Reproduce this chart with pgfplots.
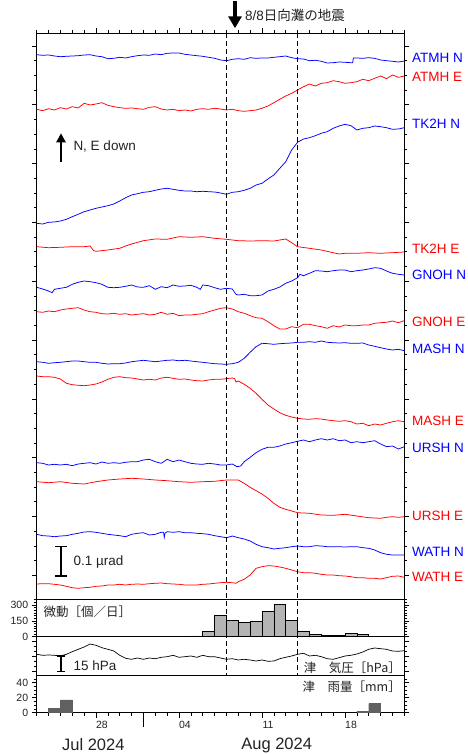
\documentclass[border=0pt]{standalone}
\usepackage{fontspec}
\setmainfont{Liberation Sans}
\newfontfamily\jp{Noto Sans CJK JP}
\usepackage{pgfplots}
\pgfplotsset{compat=1.18}
\usetikzlibrary{arrows.meta}
\definecolor{txt}{HTML}{222222}
\definecolor{sblue}{RGB}{0,0,255}
\definecolor{sred}{RGB}{255,0,0}
\definecolor{barlight}{HTML}{B4B4B4}
\definecolor{bardark}{HTML}{606060}
\pgfplotsset{
  panel/.style={
    scale only axis, width=367.6pt, xmin=0, xmax=31, anchor=south west,
    axis line style={line width=0.8pt, black},
    tick style={black, line width=0.6pt},
    tick align=outside,
    major tick length=5pt, minor tick length=3pt,
    /pgf/number format/assume math mode=true,
    ticklabel style={font=\fontsize{10.5}{12}\selectfont, text=txt},
  },
  tilt/.style={line width=0.75pt},
}
\newcommand{\lab}[3]{\node[anchor=west, text=#1, font=\fontsize{13.5}{16}\selectfont, inner sep=0pt] at (412,{754-#2}) {#3};}
\begin{document}
\begin{tikzpicture}[x=1pt,y=1pt]
\useasboundingbox (0,0) rectangle (467,754);
% ---------------- main tilt panel ----------------
\begin{axis}[panel, at={(36.7pt,154.7pt)}, height=566pt,
  y dir=reverse, ymin=33.3, ymax=599.3,
  ytick={46,104.8,163.6,222.4,281.2,340,398.8,457.6,516.4,575.2}, minor y tick num=3, yticklabels={},
  xtick={5,12,19,26}, minor xtick={0,1,...,31}, xtick pos=upper, xticklabels={}]
% ATMH N
\addplot[tilt, sblue] coordinates {(0,54.7)(0.5,55.3)(1,55.0)(1.5,56.0)(2,56.7)(2.5,56.3)(3,56.0)(3.5,55.7)(4,55.0)(4.5,54.7)(5,56.0)(5.5,56.7)(6,58.7)(6.5,58.3)(7,57.3)(7.5,58.0)(8,56.7)(8.5,55.7)(9,55.0)(9.5,55.3)(10,54.0)(10.5,54.7)(11,53.3)(11.5,53.0)(12,53.0)(12.5,54.3)(13,55.0)(13.5,55.7)(14,56.3)(14.5,57.3)(15,58.3)(15.5,60.0)(16,60.7)(16.5,59.3)(17,58.7)(17.5,59.3)(18,57.7)(18.5,58.3)(19,58.0)(19.5,58.0)(20,57.3)(20.5,56.7)(21,56.0)(21.5,57.7)(22,58.7)(22.5,59.0)(23,60.7)(23.5,60.3)(24,61.3)(24.5,63.0)(25,62.7)(25.5,62.0)(26,62.3)(26.5,62.7)(26.65,62.7)(26.7,58.0)(27,58.0)(27.5,58.3)(28,57.7)(28.5,58.3)(29,60.0)(29.5,60.7)(30,61.3)(30.5,62.0)(31,61.0)};
% ATMH E
\addplot[tilt, sred] coordinates {(0,109.3)(0.5,110.7)(1,108.7)(1.5,110.0)(2,107.7)(2.5,109.0)(3,106.7)(3.5,108.0)(4,103.3)(4.5,105.0)(5,104.0)(5.5,102.7)(6,105.3)(6.5,106.7)(7,107.7)(7.5,108.3)(8,108.0)(8.5,108.7)(9,109.3)(9.5,107.3)(10,106.7)(10.5,109.0)(11,110.0)(11.5,109.3)(12,110.7)(12.5,110.0)(13,111.0)(13.5,109.3)(14,108.7)(14.5,109.3)(15,108.3)(15.5,109.0)(16,110.0)(16.5,109.3)(17,110.7)(17.5,111.3)(18,110.7)(18.5,110.0)(19,108.3)(19.5,106.0)(20,102.7)(20.5,99.3)(21,96.0)(21.5,93.3)(22,90.0)(22.5,86.7)(23,84.0)(23.5,86.0)(24,83.3)(24.5,82.7)(25,80.7)(25.5,81.7)(26,83.3)(26.5,82.7)(27,81.7)(27.5,79.3)(28,80.7)(28.5,78.3)(29,76.0)(29.5,78.7)(30,75.0)(30.5,77.3)(31,76.0)};
% TK2H N
\addplot[tilt, sblue] coordinates {(0,223.3)(0.5,224.0)(1,222.3)(1.5,222.0)(2,221.0)(2.5,219.3)(3,216.7)(3.5,214.3)(4,211.7)(4.5,210.0)(5,208.3)(5.5,207.0)(6,205.7)(6.5,204.0)(7,201.0)(7.5,197.7)(8,195.0)(8.5,193.7)(9,192.3)(9.5,191.7)(10,190.3)(10.5,189.0)(11,188.3)(11.5,189.3)(12,190.3)(12.5,191.0)(13,191.0)(13.5,191.7)(14,191.3)(14.5,191.7)(15,192.0)(15.5,193.0)(16,194.3)(16.5,192.3)(17,191.7)(17.5,190.3)(18,188.3)(18.5,185.0)(19,183.3)(19.5,179.0)(20,175.0)(20.5,168.3)(21,161.7)(21.5,150.0)(22,142.3)(22.5,139.0)(23,137.7)(23.5,135.7)(24,133.3)(24.5,131.7)(25,128.3)(25.5,126.0)(26,124.3)(26.5,125.7)(27,130.0)(27.5,128.3)(28,127.7)(28.5,126.0)(29,126.7)(29.5,127.7)(30,129.3)(30.5,129.0)(31,127.7)};
% TK2H E
\addplot[tilt, sred] coordinates {(0,246.7)(1,247.7)(2,247.3)(3,246.7)(4,246.7)(4.5,246.0)(4.8,250.7)(5,251.3)(6,250.0)(7,248.3)(7.5,246.0)(8,244.0)(9,240.7)(10,239.0)(11,239.3)(12,236.7)(13,237.3)(14,236.7)(15,238.3)(16,239.3)(17,240.7)(18,241.0)(19,240.7)(20,241.0)(21,239.0)(21.5,242.7)(22,246.7)(23,248.3)(24,250.0)(25,252.7)(25.5,254.0)(26,253.3)(27,253.3)(28,252.7)(29,253.3)(30,252.7)(31,252.0)};
% GNOH N
\addplot[tilt, sblue] coordinates {(0,287.3)(0.5,289.0)(1,291.0)(1.3,292.7)(1.5,289.3)(2,288.3)(2.5,287.3)(3,284.3)(3.5,282.3)(4,281.0)(4.5,281.7)(5,282.7)(5.5,284.3)(6,287.3)(6.5,287.7)(7,287.3)(7.5,286.3)(8,285.0)(8.5,287.0)(9,287.3)(9.5,285.7)(10,289.3)(10.5,286.7)(11,287.7)(11.5,285.0)(12,286.3)(12.5,286.0)(13,285.3)(13.5,287.3)(13.8,289.3)(14,285.0)(14.5,285.7)(15,287.7)(15.5,289.3)(16,288.3)(16.5,289.0)(16.8,294.3)(17,295.0)(17.5,294.3)(18,295.7)(18.5,295.7)(19,295.0)(19.5,291.0)(20,289.3)(20.5,287.0)(21,283.3)(21.5,281.0)(22,277.7)(22.2,274.3)(22.5,275.7)(23,273.3)(23.5,270.7)(24,271.0)(24.5,271.7)(25,270.7)(25.5,270.0)(26,270.0)(26.5,271.7)(27,270.7)(27.5,270.0)(28,269.0)(28.5,267.7)(29,268.3)(29.5,271.0)(30,273.3)(30.5,274.3)(31,275.0)};
% GNOH E
\addplot[tilt, sred] coordinates {(0,311.7)(0.5,312.3)(1,311.0)(1.5,311.7)(2,310.0)(2.5,309.0)(3,308.3)(3.5,307.7)(4,310.0)(4.5,311.7)(5,312.3)(5.5,313.7)(6,314.0)(6.5,313.3)(7,314.3)(7.5,313.7)(8,315.0)(8.5,314.3)(9,313.7)(9.5,315.0)(10,314.3)(10.5,312.3)(11,314.3)(11.5,313.3)(12,315.7)(12.5,315.0)(13,315.0)(13.5,314.3)(14,313.7)(14.5,311.7)(15,310.0)(15.5,308.3)(16,307.7)(16.5,309.0)(17,311.7)(17.5,313.3)(18,315.7)(18.5,317.7)(19,318.3)(19.5,321.7)(20,325.7)(20.5,329.0)(21,329.0)(21.5,326.7)(22,327.7)(22.5,324.3)(23,324.3)(23.5,325.7)(24,326.7)(24.5,328.3)(25,325.7)(25.5,327.0)(26,325.0)(26.5,325.7)(27,325.7)(27.5,325.0)(28,325.0)(28.5,323.3)(29,322.7)(29.5,322.3)(30,321.0)(30.5,322.7)(31,320.7)};
% MASH N
\addplot[tilt, sblue] coordinates {(0,361.7)(0.5,362.3)(1,363.3)(1.5,362.7)(2,362.3)(2.5,361.7)(3,361.0)(3.5,361.0)(4,361.7)(4.5,362.3)(5,362.3)(5.5,363.3)(6,364.0)(6.5,363.7)(7,363.7)(7.5,363.0)(8,361.7)(8.5,361.0)(9,360.3)(9.5,361.0)(10,361.7)(10.5,361.0)(11,360.3)(11.5,360.0)(12,360.7)(12.5,360.3)(13,361.0)(13.5,361.7)(14,362.3)(14.5,363.0)(15,363.7)(15.5,364.0)(16,364.3)(16.5,363.7)(17,362.3)(17.5,358.3)(18,352.3)(18.5,346.7)(19,343.3)(19.5,343.7)(20,344.3)(20.5,343.7)(21,343.3)(21.5,343.0)(22,342.3)(22.5,342.3)(23,341.7)(23.5,342.3)(24,341.0)(24.5,342.3)(25,342.7)(25.5,343.0)(26,342.7)(26.5,343.3)(27,343.3)(27.5,343.0)(28,345.0)(28.5,346.3)(29,347.7)(29.5,349.0)(30,350.0)(30.5,349.3)(31,350.7)};
% MASH E
\addplot[tilt, sred] coordinates {(0,376.0)(0.5,376.7)(1,376.7)(1.5,377.3)(2,379.0)(2.5,383.3)(3,384.7)(3.5,385.3)(4,385.7)(4.5,385.0)(5,384.0)(5.5,382.0)(6,379.3)(6.5,377.3)(7,376.7)(7.5,377.7)(8,378.0)(8.5,379.0)(9,380.0)(9.5,379.3)(10,380.0)(10.5,378.0)(11,377.3)(11.5,378.3)(12,379.3)(12.5,379.0)(13,380.0)(13.5,380.7)(14,381.0)(14.5,380.0)(15,379.3)(15.5,379.3)(16,378.7)(16.5,378.0)(16.7,378.7)(16.8,382.0)(17,381.0)(17.5,384.3)(18,388.3)(18.5,393.3)(19,399.3)(19.5,405.0)(20,409.0)(20.5,412.7)(21,415.3)(21.5,417.0)(22,418.3)(22.5,419.0)(23,419.3)(23.5,418.7)(24,419.0)(24.5,420.0)(25,420.7)(25.5,421.3)(26,420.7)(26.5,421.7)(27,424.0)(27.5,423.3)(28,425.7)(28.5,424.0)(29,425.0)(29.5,423.3)(30,421.7)(30.5,420.7)(31,421.7)};
% URSH N
\addplot[tilt, sblue] coordinates {(0,462.7)(0.5,463.3)(1,465.0)(1.5,464.3)(2,465.0)(2.5,464.3)(3,465.7)(3.5,464.0)(4,463.3)(4.5,462.7)(5,464.0)(5.5,462.0)(6,463.3)(6.5,462.7)(7,463.3)(7.5,462.3)(8,461.7)(8.5,461.7)(9,460.0)(9.5,459.3)(10,461.7)(10.5,463.3)(11,459.3)(11.5,461.7)(12,460.0)(12.5,461.7)(13,463.3)(13.5,464.0)(14,464.3)(14.5,463.3)(15,464.0)(15.5,465.0)(16,465.0)(16.5,464.0)(16.9,466.7)(17.2,466.0)(17.5,461.7)(18,457.3)(18.5,452.7)(19,449.3)(19.5,447.3)(20,447.3)(20.5,446.0)(21,444.0)(21.5,442.7)(22,441.3)(22.5,440.0)(23,441.7)(23.5,440.0)(24,438.7)(24.5,440.0)(25,438.7)(25.5,440.7)(26,440.0)(26.5,442.7)(27,441.7)(27.5,442.7)(28,441.7)(28.5,440.7)(29,444.0)(29.5,446.7)(30,446.0)(30.5,449.0)(31,446.7)};
% URSH E
\addplot[tilt, sred] coordinates {(0,481.7)(1,482.7)(2,481.7)(3,483.3)(4,484.0)(5,481.7)(6,480.0)(7,479.0)(8,478.3)(9,479.0)(10,480.0)(11,480.7)(12,481.7)(13,482.3)(14,481.7)(15,481.3)(16,480.0)(17,480.0)(17.5,483.3)(18,487.3)(18.5,490.7)(19,494.0)(19.5,498.3)(20,503.3)(20.5,507.3)(21,509.3)(21.5,511.0)(22,512.7)(23,513.3)(24,515.0)(25,515.3)(26,514.3)(27,516.0)(28,517.7)(29,518.3)(29.5,517.3)(30,516.7)(30.5,517.3)(31,516.7)};
% WATH N
\addplot[tilt, sblue] coordinates {(0,534.3)(0.5,535.7)(1,536.0)(1.5,536.7)(2,536.0)(2.5,535.7)(3,534.3)(3.5,533.3)(4,532.0)(4.5,531.7)(5,532.3)(5.5,533.3)(6,534.3)(6.5,535.0)(7,535.7)(7.5,536.7)(8,534.3)(8.5,533.3)(9,532.7)(9.5,535.0)(10,534.3)(10.5,532.3)(10.7,532.3)(10.76,537.3)(10.82,533.3)(11,531.7)(11.5,532.3)(12,531.7)(12.5,532.7)(13,532.7)(13.5,533.3)(14,533.7)(14.5,534.3)(15,535.7)(15.5,536.7)(16,537.7)(16.5,536.0)(17,537.7)(17.5,539.0)(18,541.0)(18.5,544.3)(19,546.7)(19.5,547.7)(20,549.0)(20.5,548.3)(21,547.7)(21.5,546.7)(22,546.0)(22.5,546.7)(23,546.7)(23.5,545.7)(24,546.0)(24.5,546.7)(25,546.7)(25.5,546.7)(26,547.0)(26.5,546.7)(27,546.7)(27.5,547.7)(28,548.3)(28.5,550.0)(29,552.7)(29.5,554.3)(30,555.0)(30.5,555.0)(31,555.0)};
% WATH E
\addplot[tilt, sred] coordinates {(0,584.0)(0.5,583.7)(1,583.7)(1.5,584.3)(2,585.0)(2.5,586.3)(3,587.7)(3.5,588.3)(4,587.7)(4.5,587.3)(5,586.3)(5.5,586.0)(6,585.0)(6.5,585.0)(7,584.3)(7.5,585.0)(8,584.3)(8.5,584.0)(9,584.3)(9.5,583.7)(10,583.3)(10.5,583.0)(11,583.7)(11.5,584.0)(12,584.3)(12.5,585.0)(13,585.0)(13.5,585.0)(14,584.3)(14.5,584.0)(15,583.3)(15.5,582.7)(16,582.3)(16.5,582.7)(16.8,583.3)(17,581.7)(17.5,579.3)(18,575.0)(18.5,568.3)(19,566.7)(19.5,565.7)(20,566.0)(20.5,567.0)(21,568.3)(21.5,570.0)(22,571.7)(22.5,572.7)(23,572.7)(23.5,573.3)(24,574.3)(24.5,575.0)(25,575.0)(25.5,575.7)(26,576.0)(26.5,576.7)(27,577.7)(27.5,577.7)(28,578.3)(28.5,578.3)(29,579.0)(29.5,577.7)(30,576.3)(30.5,576.0)(31,577.3)};
\end{axis}
% ---------------- microtremor panel ----------------
\begin{axis}[panel, at={(36.7pt,117.3pt)}, height=37.4pt,
  ymin=0, ymax=354, ytick={0,150,300}, minor ytick={25,50,...,350},
  yticklabel pos=left, xtick=\empty]
\addplot[ybar, bar width=1, bar shift=0pt, fill=barlight, draw=black, line width=0.6pt]
  coordinates {(13.5,8)(14.5,47)(15.5,202)(16.5,155)(17.5,133)(18.5,145)(19.5,240)(20.5,303)(21.5,155)(22.5,54)(23.5,25)(24.5,16)(25.5,10)(26.5,32)(27.5,19)};
\end{axis}
% ---------------- pressure panel ----------------
\begin{axis}[panel, at={(36.7pt,78.3pt)}, height=39pt,
  y dir=reverse, ymin=636.7, ymax=675.7, ytick={641.7,656.7,671.7}, yticklabels={},
  minor y tick num=2, xtick=\empty]
\addplot[line width=0.7pt, black] coordinates {(0,654.3)(0.5,655.3)(1,655.0)(1.5,655.3)(2,656.0)(2.5,654.3)(3,651.7)(3.5,649.3)(4,647.0)(4.5,644.0)(5,645.3)(5.5,647.7)(6,649.3)(6.5,651.0)(7,655.3)(7.5,658.3)(8,659.3)(8.5,658.0)(9,659.3)(9.5,658.0)(10,658.7)(10.5,657.3)(11,656.7)(11.5,655.3)(12,657.3)(12.5,656.7)(13,656.0)(13.5,657.3)(14,655.3)(14.5,656.7)(15,656.7)(15.5,658.0)(16,659.3)(16.5,658.7)(17,660.0)(17.5,659.3)(18,660.0)(18.5,661.0)(19,660.0)(19.5,661.3)(20,661.0)(20.5,658.7)(21,657.3)(21.5,656.0)(22,654.3)(22.5,653.3)(23,656.0)(23.5,655.3)(24,656.7)(24.5,658.7)(25,659.3)(25.5,657.7)(26,656.0)(26.5,655.3)(27,654.0)(27.5,652.0)(28,649.3)(28.5,648.0)(29,648.7)(29.5,649.3)(30,651.0)(30.5,651.3)(31,650.7)};
\end{axis}
% ---------------- rain panel ----------------
\begin{axis}[panel, at={(36.7pt,41.3pt)}, height=37pt,
  ymin=0, ymax=49.3, ytick={0,20,40}, minor ytick={5,10,...,45}, yticklabel pos=left,
  xtick={5,12,19,26}, xticklabels={28,04,11,18}, minor xtick={0,1,...,31}, xtick pos=lower,
  xticklabel style={xshift=6pt}]
\addplot[ybar, bar width=1, bar shift=0pt, fill=bardark, draw=bardark]
  coordinates {(1.5,6)(2.5,17)(27.5,2)(28.5,12)};
\end{axis}
% ---------------- reference lines & annotations ----------------
\draw[dash pattern=on 5pt off 3pt, line width=0.7pt, black] (226.4,720.7) -- (226.4,78.3);
\draw[dash pattern=on 5pt off 3pt, line width=0.7pt, black] (297.6,720.7) -- (297.6,78.3);
\draw[line width=0.8pt] (143.3,41) -- (143.3,27);
\node[font=\fontsize{16.5}{19}\selectfont, text=txt] at (93.3,9) {Jul 2024};
\node[font=\fontsize{16.5}{19}\selectfont, text=txt] at (276.7,9) {Aug 2024};
\draw[-{Triangle[length=12pt,width=13pt]}, line width=4pt] (235,753) -- (235,725.7);
\node[anchor=west, font=\fontsize{13.5}{16}\selectfont, text=txt, inner sep=0pt] at (245,739) {8/8{\jp 日向灘の地震}};
\draw[-{Triangle[length=9pt,width=9pt]}, line width=2.5pt] (61,592.3) -- (61,620.7);
\node[anchor=west, font=\fontsize{13.5}{16}\selectfont, text=txt, inner sep=0pt] at (73.3,607.3) {N, E down};
\draw[line width=1.2pt] (61,207.3) -- (61,178) (55,207.3) -- (67,207.3) (55,178) -- (67,178);
\node[anchor=west, font=\fontsize{13.5}{16}\selectfont, text=txt, inner sep=0pt] at (73.3,192.3) {0.1 µrad};
\draw[line width=1.2pt] (61,98) -- (61,82.7) (57,98) -- (65,98) (57,82.7) -- (65,82.7);
\node[anchor=west, font=\fontsize{13.5}{16}\selectfont, text=txt, inner sep=0pt] at (73.3,88.3) {15 hPa};
\node[anchor=west, font=\jp\fontsize{12.5}{15}\selectfont, text=txt, inner sep=0pt] at (43.3,142.3) {微動［個／日］};
\node[anchor=east, font=\jp\fontsize{12.5}{15}\selectfont, text=txt, inner sep=0pt] at (401,86.7) {津　気圧［hPa］};
\node[anchor=east, font=\jp\fontsize{12.5}{15}\selectfont, text=txt, inner sep=0pt] at (401,67.3) {津　雨量［mm］};
\lab{sblue}{58.3}{ATMH N}
\lab{sred}{76.7}{ATMH E}
\lab{sblue}{123.3}{TK2H N}
\lab{sred}{248.3}{TK2H E}
\lab{sblue}{275}{GNOH N}
\lab{sred}{321.7}{GNOH E}
\lab{sblue}{349.3}{MASH N}
\lab{sred}{420.7}{MASH E}
\lab{sblue}{448.3}{URSH N}
\lab{sred}{516}{URSH E}
\lab{sblue}{551.7}{WATH N}
\lab{sred}{576.7}{WATH E}
\end{tikzpicture}
\end{document}
